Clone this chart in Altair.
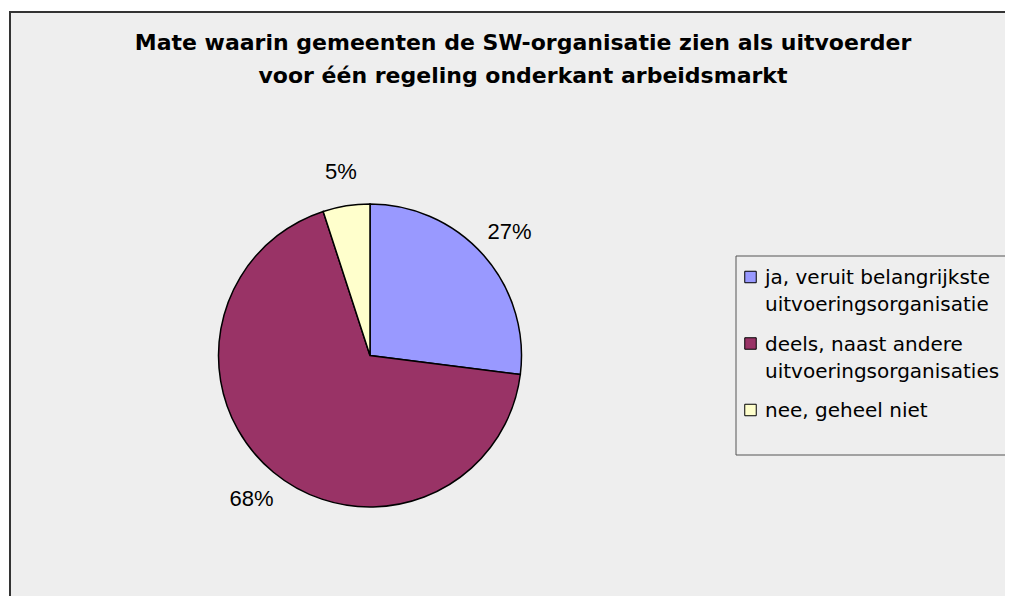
import altair as alt
import pandas as pd

# ---- data -------------------------------------------------------------
TITLE_LINES = [
    "Mate waarin gemeenten de SW-organisatie zien als uitvoerder",
    "voor één regeling onderkant arbeidsmarkt",
]
categories = [
    "ja, veruit belangrijkste uitvoeringsorganisatie",
    "deels, naast andere uitvoeringsorganisaties",
    "nee, geheel niet",
]
legend_lines = [
    ["ja, veruit belangrijkste", "uitvoeringsorganisatie"],
    ["deels, naast andere", "uitvoeringsorganisaties"],
    ["nee, geheel niet"],
]
values = [27, 68, 5]
colors = ["#9999FF", "#993366", "#FFFFCC"]

# ---- tables -----------------------------------------------------------
order_idx = list(range(len(categories)))
pie_df = pd.DataFrame({
    "cat": categories,
    "val": values,
    "idx": order_idx,
    "pct": [f"{v}%" for v in values],
})
leg_df = pd.DataFrame({
    "cat": categories,
    "idx": order_idx,
    "label": ["\n".join(l) for l in legend_lines],
})
title_df = pd.DataFrame({"t": ["\n".join(TITLE_LINES)]})
one = pd.DataFrame({"a": [0]})

W, H = 1003, 584
BG = "#EEEEEE"
CX, CY = 360, 343.5

col_scale = alt.Scale(domain=categories, range=colors)

frame_top = alt.Chart(one).mark_rule(color="#333333", strokeWidth=2).encode(
    x=alt.value(-1), x2=alt.value(W), y=alt.value(0))
frame_left = alt.Chart(one).mark_rule(color="#333333", strokeWidth=2).encode(
    x=alt.value(0), y=alt.value(-1), y2=alt.value(H))

legend_box = alt.Chart(one).mark_rect(fill=BG, stroke="#555555", strokeWidth=1).encode(
    x=alt.value(726), x2=alt.value(W + 2), y=alt.value(244), y2=alt.value(443))

base = alt.Chart(pie_df)
arcs = base.mark_arc(radius=151.5, stroke="black", strokeWidth=1.5).encode(
    theta=alt.Theta("val:Q", stack=True),
    color=alt.Color("cat:N", scale=col_scale, legend=None),
    order=alt.Order("idx:Q"),
    x=alt.value(CX), y=alt.value(CY),
)
pct_labels = base.mark_text(radius=186, font="Liberation Sans", fontSize=22,
                            color="black", align="center", baseline="middle").encode(
    theta=alt.Theta("val:Q", stack=True),
    order=alt.Order("idx:Q"),
    text="pct:N",
    x=alt.value(CX), y=alt.value(CY),
)

yleg = alt.Y("idx:Q", scale=alt.Scale(domain=[0, 2], range=[265, 398]), axis=None)
swatches = alt.Chart(leg_df).mark_square(size=132, stroke="black", strokeWidth=1, opacity=1).encode(
    x=alt.value(740.5),
    y=yleg,
    fill=alt.Fill("cat:N", scale=col_scale, legend=None),
)
leg_text = alt.Chart(leg_df).mark_text(
    align="left", baseline="alphabetic", dy=7, lineBreak="\n", lineHeight=27,
    font="DejaVu Sans", fontSize=20, color="black").encode(
    x=alt.value(755), y=yleg, text="label:N")

title = alt.Chart(title_df).mark_text(
    align="center", baseline="alphabetic", lineBreak="\n", lineHeight=33,
    font="DejaVu Sans", fontWeight="bold", fontSize=22, color="black").encode(
    x=alt.value(513), y=alt.value(38), text="t:N")

chart = alt.layer(
    legend_box, arcs, pct_labels, swatches, leg_text, title, frame_top, frame_left
).properties(
    width=W, height=H,
    autosize="none",
    padding={"left": 2, "top": 4, "right": -8, "bottom": 0},
    background="white",
).configure_view(fill=BG, strokeWidth=0)

chart.save("out.html", embed_options={"renderer": "svg", "actions": False})
